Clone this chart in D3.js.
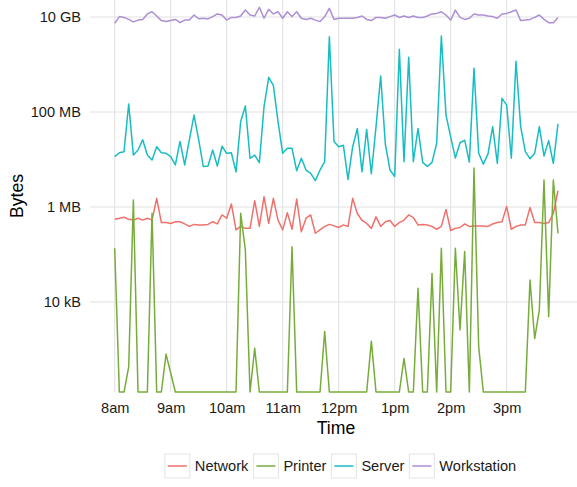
<!DOCTYPE html>
<html>
<head>
<meta charset="utf-8">
<script src="https://cdn.jsdelivr.net/npm/d3@7"></script>
<style>
  html, body { margin: 0; padding: 0; background: #ffffff; }
  svg { display: block; font-family: "Liberation Sans", Arial, Helvetica, sans-serif; }
</style>
</head>
<body>
<svg id="chart" width="577" height="487"></svg>
<script>
// Traffic per device class, sampled every 5 minutes from 8:00 to 15:55.
const seriesNames = ["Network", "Printer", "Server", "Workstation"];
const seriesColors = ["#F0716C", "#78AC3A", "#17BDC2", "#AC8FD4"];

const startTime = new Date(2020, 0, 6, 8, 0);
const sampleMinutes = 5;
const sampleCount = 96;

// Network traffic, MB
const networkMB = [
  0.55, 0.58, 0.61, 0.55, 0.53, 0.58, 0.53, 0.58, 0.53, 1.52,
  0.47, 0.47, 0.45, 0.49, 0.49, 0.44, 0.39, 0.43, 0.42, 0.42,
  0.43, 0.49, 0.44, 0.68, 0.58, 1.16, 0.33, 0.39, 0.355, 0.355,
  1.36, 0.39, 1.65, 0.45, 1.52, 0.53, 0.33, 0.76, 0.34, 1.47,
  0.30, 0.58, 0.68, 0.28, 0.33, 0.39, 0.43, 0.40, 0.37, 0.42,
  0.39, 1.52, 0.73, 0.52, 0.45, 0.355, 0.62, 0.39, 0.49, 0.52,
  0.39, 0.47, 0.53, 0.68, 0.60, 0.42, 0.43, 0.42, 0.39, 0.34,
  0.39, 0.89, 0.32, 0.355, 0.37, 0.44, 0.39, 0.40, 0.40, 0.40,
  0.39, 0.44, 0.47, 0.49, 1.02, 0.34, 0.39, 0.42, 0.42, 0.98,
  0.47, 0.47, 0.45, 0.47, 0.73, 2.2
];

// Printer traffic, kB (0 = idle interval)
const printerKB = [
  135, 0, 0, 0.43, 1400, 0, 0, 0, 735, 0,
  0, 0.80, 0.32, 0, 0, 0, 0, 0, 0, 0,
  0, 0, 0, 0, 0, 0, 0, 735, 124, 0,
  1.06, 0, 0, 0, 0, 0, 0, 0, 146, 0,
  0, 0, 0, 0, 0, 2.4, 0, 0, 0, 0,
  0, 0, 0, 0, 0, 1.5, 0, 0, 0, 0,
  0, 0, 0.65, 0, 0, 19.4, 0, 0, 40, 0,
  135, 0, 0, 135, 2.57, 115, 0, 6600, 1.15, 0,
  0, 0, 0, 0, 0, 0, 0, 0, 0, 29,
  1.7, 6.8, 3700, 4.9, 3700, 279
];

// Server traffic, MB
const serverMB = [
  11.5, 13.9, 14.6, 148, 12.4, 15.8, 26, 12.4, 9.8, 18.6,
  13.9, 13.5, 11.5, 7.7, 24, 7.7, 26, 86, 26, 7.1,
  7.3, 15.8, 7.3, 19, 13.5, 13.9, 5.5, 63, 134, 10.6,
  12.4, 8.6, 129, 537, 365, 63, 13.5, 17.2, 17.2, 5.8,
  10.6, 6.0, 5.1, 3.6, 6.0, 9.0, 3855, 24, 18.6, 20,
  3.8, 18.6, 45, 5.5, 43, 5.0, 49, 573, 21, 6.0,
  4.4, 2084, 9.0, 1416, 9.0, 45, 8.7, 7.1, 8.7, 22,
  3981, 86, 30, 10.8, 22.5, 25.5, 8.8, 830, 13.5, 8.0,
  13.1, 49, 8.3, 194, 140, 10.6, 1166, 49, 14.6, 10.4,
  13.5, 49, 11.9, 25, 8.3, 56
];

// Workstation traffic, GB
const workstationGB = [
  7.4, 10.2, 9.8, 8.9, 7.9, 8.6, 8.9, 11.6, 12.9, 10.5,
  8.4, 8.0, 8.4, 8.9, 7.6, 8.6, 8.6, 11.0, 9.2, 9.4,
  9.1, 10.2, 11.6, 11.0, 8.6, 9.8, 9.8, 10.5, 14.0, 11.0,
  10.5, 16.0, 9.4, 14.5, 11.6, 12.9, 9.4, 12.9, 10.2, 12.9,
  9.4, 8.9, 9.4, 8.6, 8.0, 10.2, 15.2, 8.9, 9.4, 9.4,
  9.4, 9.4, 9.8, 10.5, 8.9, 8.4, 9.8, 9.8, 9.4, 10.2,
  11.0, 9.8, 10.5, 9.8, 10.5, 9.8, 9.8, 10.5, 11.6, 11.9,
  12.9, 11.0, 8.6, 14.0, 9.8, 8.9, 9.4, 11.6, 11.0, 11.0,
  10.5, 10.2, 9.4, 11.6, 11.9, 12.9, 14.0, 8.4, 8.6, 8.9,
  9.8, 11.0, 8.9, 7.6, 7.6, 9.8
];

// Axis breaks
const yTickValues = [1e4, 1e6, 1e8, 1e10];
const yTickLabels = ["10 kB", "1 MB", "100 MB", "10 GB"];
const xTickHours = [8, 9, 10, 11, 12, 13, 14, 15];
const xTitle = "Time";
const yTitle = "Bytes";

// ---- build tidy series (values in bytes) ----
const times = d3.range(sampleCount).map(i => d3.timeMinute.offset(startTime, i * sampleMinutes));
const seriesValues = [
  networkMB.map(v => v * 1e6),
  printerKB.map(v => v * 1e3),
  serverMB.map(v => v * 1e6),
  workstationGB.map(v => v * 1e9)
];
const series = seriesNames.map((name, k) => ({
  name,
  color: seriesColors[k],
  points: times.map((t, i) => ({ t, v: seriesValues[k][i] }))
}));

// ---- layout ----
const svg = d3.select("#chart");
const panel = { left: 92, right: 577, top: 0, bottom: 392 };

const x = d3.scaleTime()
  .domain([times[0], times[times.length - 1]])
  .range([114.7, 558.0]);

const y = d3.scaleLog()
  .domain([1e4, 1e10])
  .range([302, 17]);

// non-positive values sit on the lower edge of the panel
const yPos = v => (v > 0 ? y(v) : panel.bottom);

// ---- grid ----
const grid = svg.append("g").attr("class", "grid");
grid.selectAll("line.h")
  .data(yTickValues)
  .join("line")
  .attr("class", "h")
  .attr("x1", panel.left - 2).attr("x2", panel.right)
  .attr("y1", d => y(d)).attr("y2", d => y(d))
  .attr("stroke", "#e2e2e2").attr("stroke-width", 1.1);

const xTickDates = xTickHours.map(h => new Date(2020, 0, 6, h, 0));
grid.selectAll("line.v")
  .data(xTickDates)
  .join("line")
  .attr("class", "v")
  .attr("x1", d => x(d)).attr("x2", d => x(d))
  .attr("y1", panel.top).attr("y2", panel.bottom)
  .attr("stroke", "#e2e2e2").attr("stroke-width", 1.1);

// ---- lines ----
svg.append("clipPath").attr("id", "panel-clip")
  .append("rect")
  .attr("x", panel.left).attr("y", panel.top)
  .attr("width", panel.right - panel.left).attr("height", panel.bottom - panel.top + 1);

const line = d3.line().x(d => x(d.t)).y(d => yPos(d.v));

svg.append("g").attr("clip-path", "url(#panel-clip)")
  .selectAll("path")
  .data(series)
  .join("path")
  .attr("d", d => line(d.points))
  .attr("fill", "none")
  .attr("stroke", d => d.color)
  .attr("stroke-width", 1.5)
  .attr("stroke-linejoin", "round");

// ---- axes ----
const yAxis = d3.axisLeft(y)
  .tickValues(yTickValues)
  .tickFormat((d, i) => yTickLabels[i])
  .tickSize(0)
  .tickPadding(0);
const gy = svg.append("g").attr("transform", "translate(81,0)").call(yAxis);
gy.select(".domain").remove();
gy.selectAll("text")
  .attr("font-size", 14.6)
  .attr("fill", "#1a1a1a")
  .attr("font-family", "Liberation Sans, Arial, sans-serif");

const xAxis = d3.axisBottom(x)
  .tickValues(xTickDates)
  .tickFormat(d => d3.timeFormat("%-I%p")(d).toLowerCase())
  .tickSize(0)
  .tickPadding(0);
const gx = svg.append("g").attr("transform", "translate(0,403)").call(xAxis);
gx.select(".domain").remove();
gx.selectAll("text")
  .attr("font-size", 14.6)
  .attr("fill", "#1a1a1a")
  .attr("font-family", "Liberation Sans, Arial, sans-serif");

// axis titles
svg.append("text")
  .attr("x", (panel.left + 580) / 2)
  .attr("y", 434)
  .attr("text-anchor", "middle")
  .attr("font-size", 17.6)
  .attr("fill", "#000")
  .text(xTitle);

svg.append("text")
  .attr("transform", `translate(23,${(panel.top + panel.bottom) / 2}) rotate(-90)`)
  .attr("text-anchor", "middle")
  .attr("font-size", 17.6)
  .attr("fill", "#000")
  .text(yTitle);

// ---- legend ----
const legend = svg.append("g").attr("class", "legend");
const keyW = 25, keyH = 24, legendY = 466;
let cursor = 0;
const items = legend.selectAll("g.item")
  .data(series)
  .join("g")
  .attr("class", "item");

items.append("rect")
  .attr("width", keyW).attr("height", keyH)
  .attr("y", legendY - keyH / 2)
  .attr("fill", "#ffffff")
  .attr("stroke", "#e4e4e4")
  .attr("stroke-width", 1);
items.append("line")
  .attr("x1", 3).attr("x2", keyW - 3)
  .attr("y1", legendY).attr("y2", legendY)
  .attr("stroke", d => d.color)
  .attr("stroke-width", 1.5);
items.append("text")
  .attr("x", keyW + 5)
  .attr("y", legendY)
  .attr("dy", "0.36em")
  .attr("font-size", 14.6)
  .attr("fill", "#1a1a1a")
  .text(d => d.name);

items.each(function () {
  const g = d3.select(this);
  g.attr("transform", `translate(${cursor},0)`);
  cursor += keyW + 5 + g.select("text").node().getComputedTextLength() + 5;
});
const legendWidth = cursor - 5;
legend.attr("transform", `translate(${340.5 - legendWidth / 2},0)`);
</script>
</body>
</html>
